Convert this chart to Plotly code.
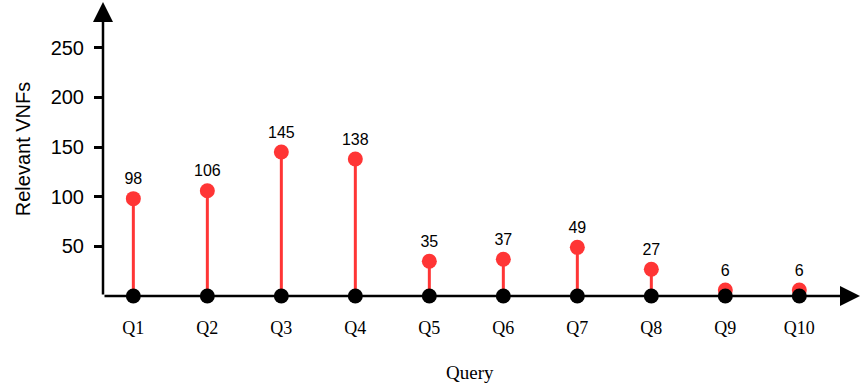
import plotly.graph_objects as go

queries = ["Q1", "Q2", "Q3", "Q4", "Q5", "Q6", "Q7", "Q8", "Q9", "Q10"]
relevant_vnfs = [98, 106, 145, 138, 35, 37, 49, 27, 6, 6]
y_ticks = [50, 100, 150, 200, 250]

RED = "#FF3535"
idx = list(range(len(queries)))

X_MIN, X_MAX = -0.41, 9.82
Y_MAX = 296

W, H = 862, 385
M_L, M_R, M_T, M_B = 103, 2, 2, 89

# stems from the baseline up to each value
stem_x, stem_y = [], []
for i, v in zip(idx, relevant_vnfs):
    stem_x += [i, i, None]
    stem_y += [0, v, None]

fig = go.Figure()
fig.add_trace(go.Scatter(x=stem_x, y=stem_y, mode="lines", cliponaxis=False,
                         line=dict(color=RED, width=3), hoverinfo="skip"))
fig.add_trace(go.Scatter(x=idx, y=relevant_vnfs, mode="markers+text", cliponaxis=False,
                         marker=dict(color=RED, size=15),
                         text=[str(v) for v in relevant_vnfs],
                         textposition="top center",
                         textfont=dict(family="Liberation Sans, Arial", size=16, color="black")))
fig.add_trace(go.Scatter(x=idx, y=[0] * len(idx), mode="markers", cliponaxis=False,
                         marker=dict(color="black", size=15)))

# axes with arrowheads
fig.add_annotation(x=X_MAX, y=0, ax=X_MIN, ay=0, xref="x", yref="y", axref="x", ayref="y",
                   showarrow=True, arrowhead=2, arrowsize=1.6, arrowwidth=2.5,
                   arrowcolor="black", text="")
fig.add_annotation(x=X_MIN, y=Y_MAX, ax=X_MIN, ay=0, xref="x", yref="y", axref="x", ayref="y",
                   showarrow=True, arrowhead=2, arrowsize=1.6, arrowwidth=2.5,
                   arrowcolor="black", text="")

# x-axis title, placed below the category labels
fig.add_annotation(x=(470 - M_L) / (W - M_L - M_R), y=-0.26, xref="paper", yref="paper",
                   xanchor="center", yanchor="middle",
                   text="Query", showarrow=False,
                   font=dict(family="Liberation Serif, Times New Roman", size=19, color="black"))

fig.update_layout(
    width=W, height=H,
    margin=dict(l=M_L, r=M_R, t=M_T, b=M_B),
    plot_bgcolor="white", paper_bgcolor="white",
    showlegend=False,
    xaxis=dict(range=[X_MIN, X_MAX], tickvals=idx, ticktext=queries,
               showgrid=False, zeroline=False, showline=False,
               ticks="outside", ticklen=15, tickcolor="rgba(0,0,0,0)",
               tickfont=dict(family="Liberation Serif, Times New Roman", size=18, color="black")),
    yaxis=dict(range=[0, Y_MAX], tickvals=y_ticks,
               showgrid=False, zeroline=False, showline=False,
               ticks="outside", ticklen=8, tickwidth=2.5, tickcolor="black",
               ticklabelstandoff=6,
               tickfont=dict(family="Liberation Sans, Arial", size=20, color="black"),
               title=dict(text="Relevant VNFs", standoff=14,
                          font=dict(family="Liberation Sans, Arial", size=20, color="black"))),
)

fig.write_html("out.html")
